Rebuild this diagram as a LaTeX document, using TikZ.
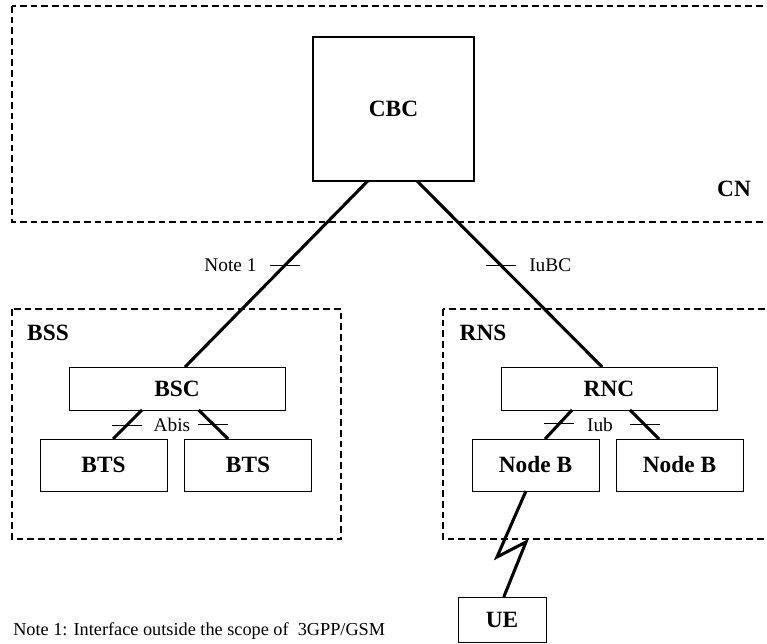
\documentclass[tikz,border=0pt]{standalone}
\usepackage{fontspec}
\setmainfont{Liberation Serif}
\usetikzlibrary{calc}

\tikzset{
  unit/.style={draw, line width=0.75pt, inner sep=0pt, outer sep=0pt,
    font=\fontsize{17.5}{19}\selectfont\bfseries},
  area/.style={line width=1.1pt, dash pattern=on 5pt off 3pt},
  link/.style={line width=2.3pt},
  tick/.style={line width=0.75pt},
  lbl/.style={font=\fontsize{14.5}{16}\selectfont, inner sep=0pt},
  arealbl/.style={font=\fontsize{17.5}{19}\selectfont\bfseries, inner sep=0pt}
}

\begin{document}
\begin{tikzpicture}[x=0.75pt,y=-0.75pt,line join=miter]
  \clip (0,0) rectangle (767,643);
  % domains
  \draw[area] (12,6) rectangle (790,222);
  \draw[area] (12,309) rectangle (341,539);
  \draw[area] (443,309) rectangle (790,539);
  \node[arealbl] (cn) at (734,189) {CN};
  \node[arealbl] (bss) at (48,333) {BSS};
  \node[arealbl] (rns) at (483,333) {RNS};
  % network elements
  \node[unit, line width=1.5pt, minimum width=120.75pt, minimum height=108pt] (cbc) at (393.5,109) {CBC};
  \node[unit, minimum width=162pt, minimum height=32.25pt] (bsc) at (177,388.5) {BSC};
  \node[unit, minimum width=162pt, minimum height=32.25pt] (rnc) at (609,388.5) {RNC};
  \node[unit, minimum width=95.25pt, minimum height=39pt] (btsa) at (103.5,465) {BTS};
  \node[unit, minimum width=95.25pt, minimum height=39pt] (btsb) at (248,465) {BTS};
  \node[unit, minimum width=95.25pt, minimum height=39pt] (nodeba) at (535.5,465) {Node B};
  \node[unit, minimum width=95.25pt, minimum height=39pt] (nodebb) at (679.5,465) {Node B};
  \node[unit, minimum width=66pt, minimum height=33.75pt] (ue) at (502,619.5) {UE};
  % attachment points
  \coordinate (cbcl) at ($(cbc.south west)!0.34!(cbc.south east)$);
  \coordinate (cbcr) at ($(cbc.south west)!0.646!(cbc.south east)$);
  \coordinate (bsct) at ($(bsc.north west)!0.537!(bsc.north east)$);
  \coordinate (rnct) at ($(rnc.north west)!0.468!(rnc.north east)$);
  \coordinate (bscl) at ($(bsc.south west)!0.338!(bsc.south east)$);
  \coordinate (bscr) at ($(bsc.south west)!0.60!(bsc.south east)$);
  \coordinate (btsat) at ($(btsa.north west)!0.575!(btsa.north east)$);
  \coordinate (btsbt) at ($(btsb.north west)!0.344!(btsb.north east)$);
  \coordinate (rncl) at ($(rnc.south west)!0.329!(rnc.south east)$);
  \coordinate (rncr) at ($(rnc.south west)!0.597!(rnc.south east)$);
  \coordinate (nodebat) at ($(nodeba.north west)!0.575!(nodeba.north east)$);
  \coordinate (nodebbt) at ($(nodebb.north west)!0.339!(nodebb.north east)$);
  \coordinate (nodebab) at ($(nodeba.south west)!0.425!(nodeba.south east)$);
  \coordinate (uet) at ($(ue.north west)!0.52!(ue.north east)$);
  % links
  \draw[link] (cbcl) -- (bsct);
  \draw[link] (cbcr) -- (rnct);
  \draw[link] (bscl) -- (btsat);
  \draw[link] (bscr) -- (btsbt);
  \draw[link] (rncl) -- (nodebat);
  \draw[link] (rncr) -- (nodebbt);
  \draw[link] (nodebab) -- ++(-29,66) -- ++(29,-15) -- (uet);
  % interface ticks
  \draw[tick] ($(cbcl)!0.452!(bsct)$) ++(-15,0) coordinate (notetk) -- ++(30,0);
  \draw[tick] ($(cbcr)!0.452!(rnct)$) ++(-15,0) -- ++(30,0) coordinate (iubctk);
  \draw[tick] ($(bscl)!0.52!(btsat)$) ++(-15,0) -- ++(30,0);
  \draw[tick] ($(bscr)!0.5!(btsbt)$) ++(-15,0) -- ++(30,0);
  \draw[tick] ($(rncl)!0.48!(nodebat)$) ++(-15,0) -- ++(30,0);
  \draw[tick] ($(rncr)!0.5!(nodebbt)$) ++(-15,0) -- ++(30,0);
  % interface names
  \node[lbl, anchor=east] (note) at ([xshift=-10pt]notetk) {Note 1};
  \node[lbl, anchor=west] (iubc) at ([xshift=10pt]iubctk) {IuBC};
  \node[lbl] (abis) at (172,425) {Abis};
  \node[lbl] (iub) at (600,425) {Iub};
  \node[lbl, font=\fontsize{13.7}{15}\selectfont, anchor=west] (remark) at (13,631) {Note 1: Interface outside the scope of~ 3GPP/GSM};
\end{tikzpicture}
\end{document}
